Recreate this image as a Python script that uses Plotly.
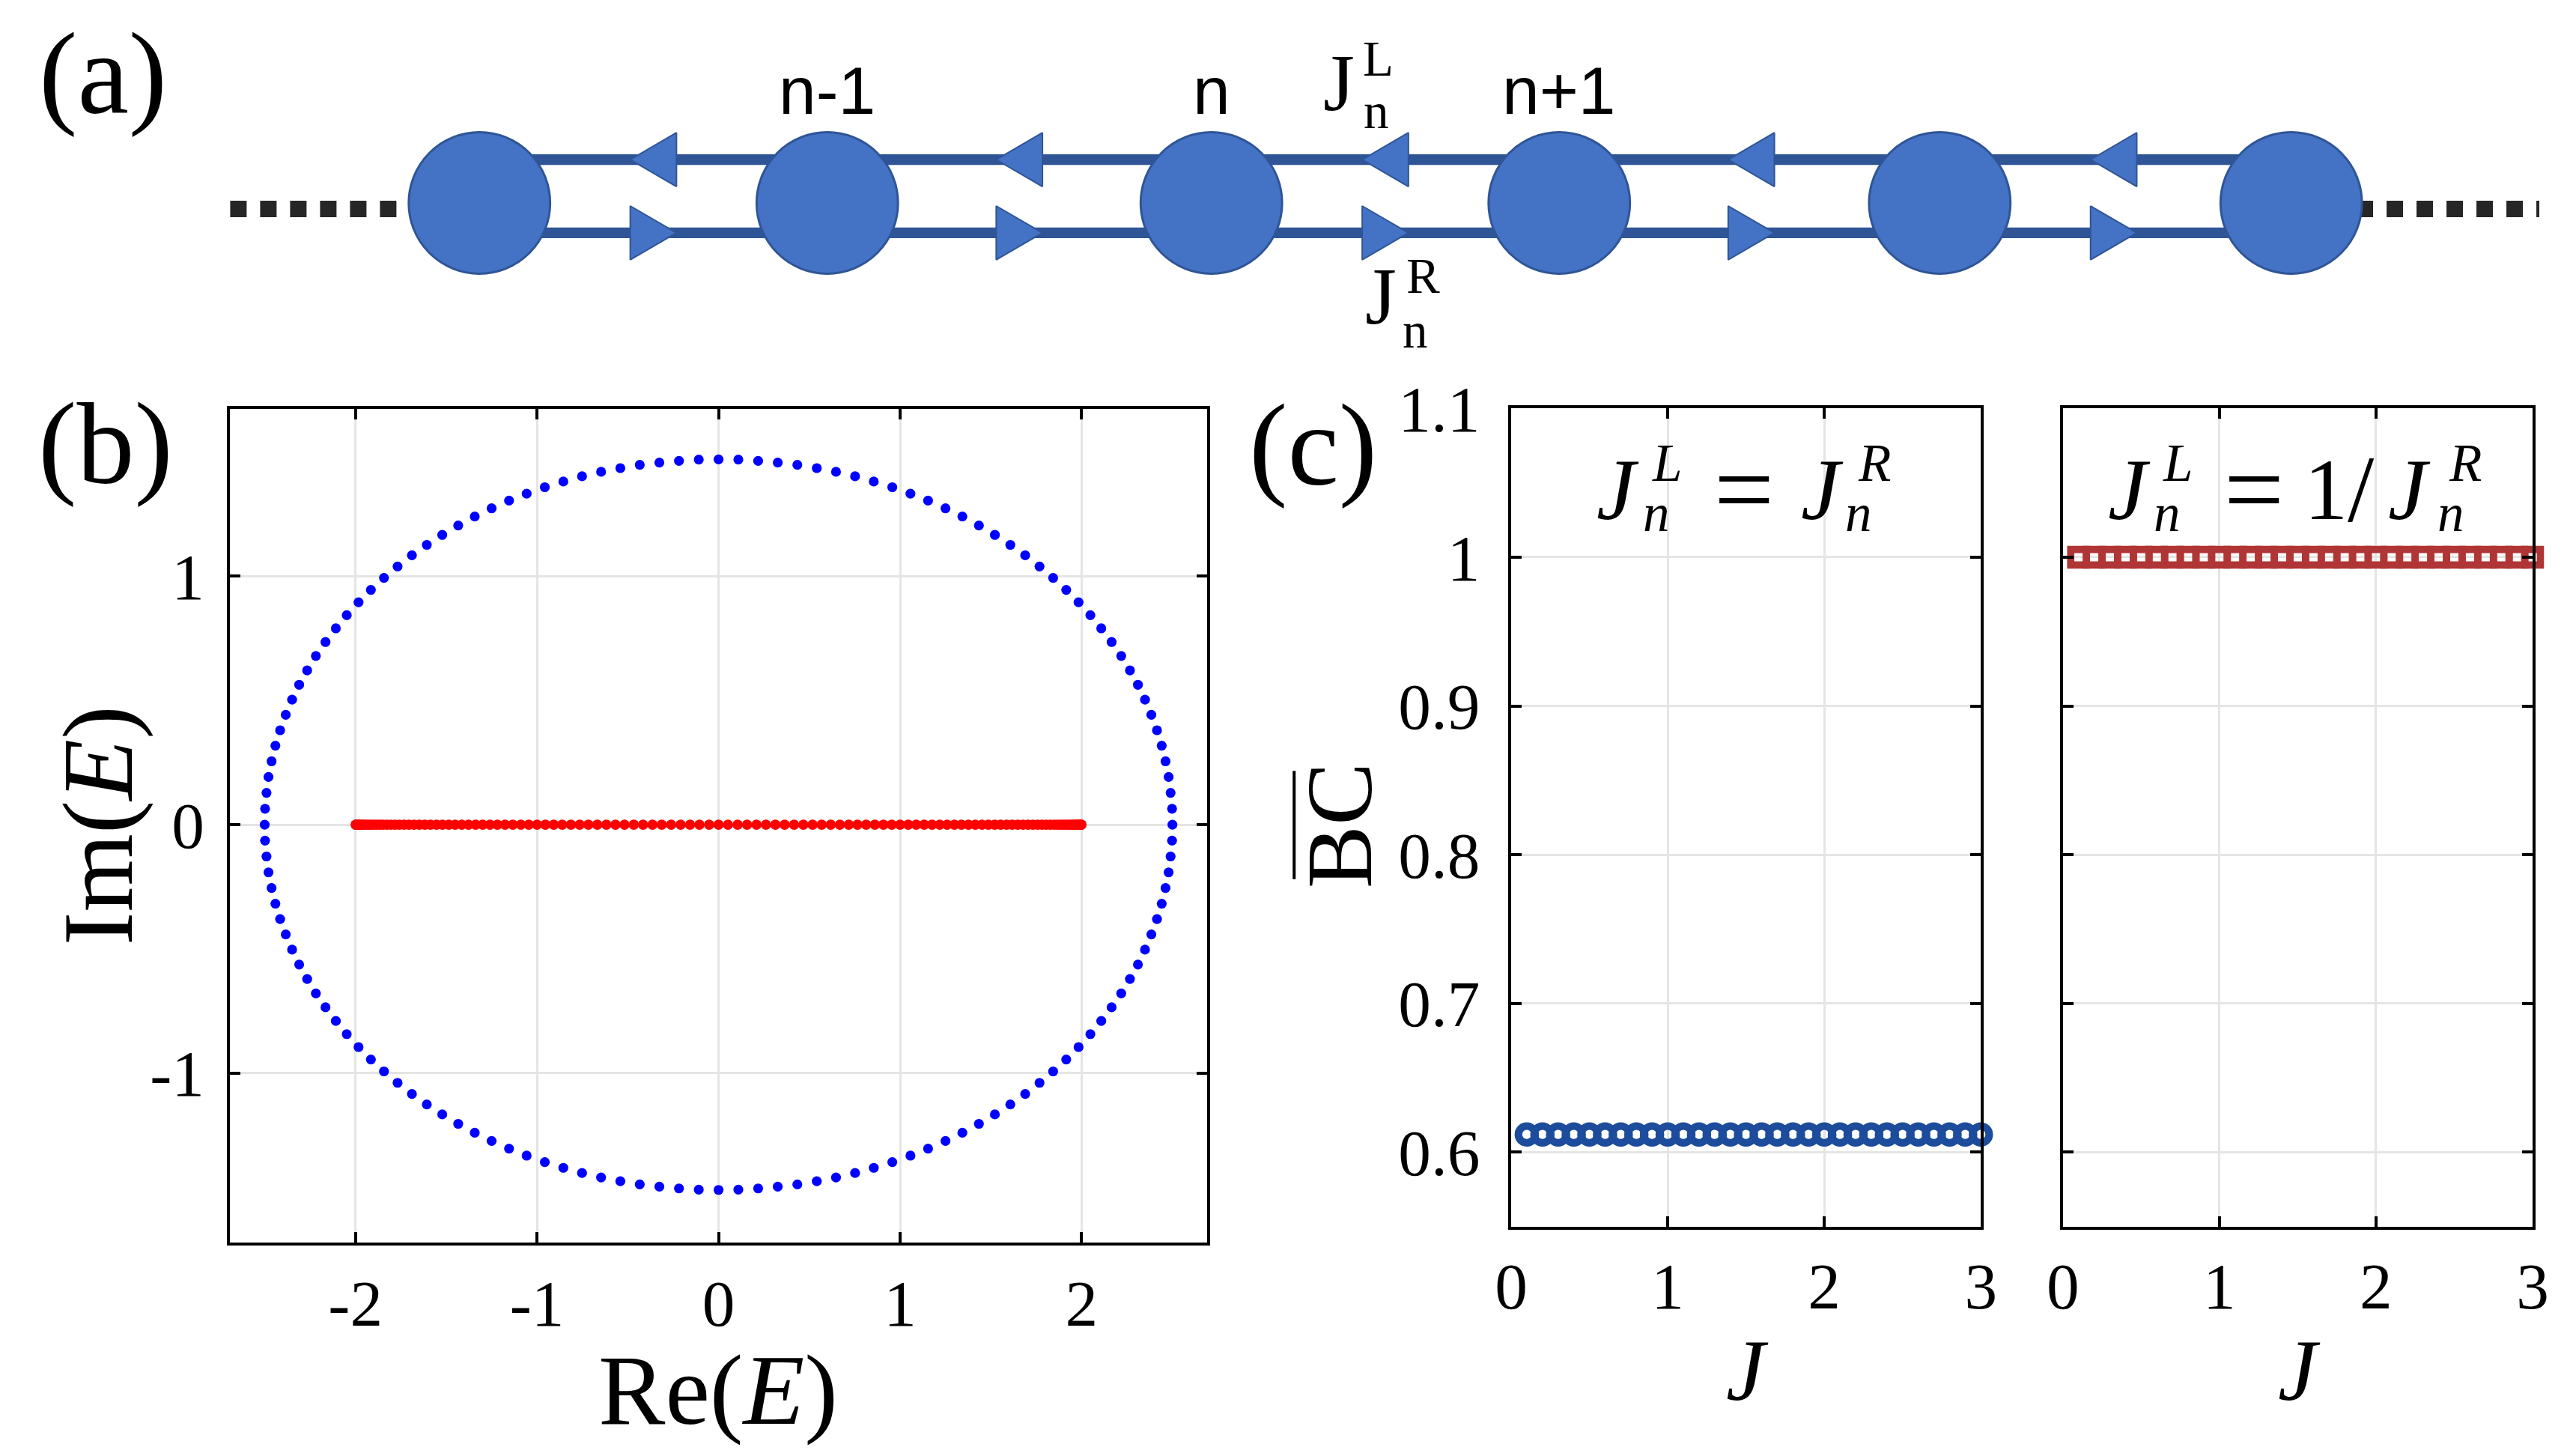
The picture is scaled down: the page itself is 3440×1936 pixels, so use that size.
import plotly.graph_objects as go

W, H = 3440, 1936

# ---------------- data: panel (b) spectra ----------------
pbc_re = [2.500, 2.498, 2.490, 2.479, 2.462, 2.441, 2.415, 2.384, 2.349, 2.310, 2.266, 2.218, 2.165, 2.108, 2.048, 1.983, 1.915, 1.843, 1.768, 1.689, 1.607, 1.522, 1.434, 1.343, 1.250, 1.154, 1.057, 0.957, 0.855, 0.752, 0.647, 0.541, 0.434, 0.326, 0.218, 0.109, 0.000,
          -0.109, -0.218, -0.326, -0.434, -0.541, -0.647, -0.752, -0.855, -0.957, -1.057, -1.154, -1.250, -1.343, -1.434, -1.522, -1.607, -1.689, -1.768, -1.843, -1.915, -1.983, -2.048, -2.108, -2.165, -2.218, -2.266, -2.310, -2.349, -2.384, -2.415, -2.441, -2.462, -2.479, -2.490, -2.498, -2.500,
          -2.498, -2.490, -2.479, -2.462, -2.441, -2.415, -2.384, -2.349, -2.310, -2.266, -2.218, -2.165, -2.108, -2.048, -1.983, -1.915, -1.843, -1.768, -1.689, -1.607, -1.522, -1.434, -1.343, -1.250, -1.154, -1.057, -0.957, -0.855, -0.752, -0.647, -0.541, -0.434, -0.326, -0.218, -0.109, 0.000,
          0.109, 0.218, 0.326, 0.434, 0.541, 0.647, 0.752, 0.855, 0.957, 1.057, 1.154, 1.250, 1.343, 1.434, 1.522, 1.607, 1.689, 1.768, 1.843, 1.915, 1.983, 2.048, 2.108, 2.165, 2.218, 2.266, 2.310, 2.349, 2.384, 2.415, 2.441, 2.462, 2.479, 2.490, 2.498]
pbc_im = [0.000, 0.064, 0.128, 0.192, 0.255, 0.318, 0.380, 0.442, 0.503, 0.563, 0.621, 0.679, 0.735, 0.790, 0.843, 0.895, 0.945, 0.993, 1.039, 1.084, 1.126, 1.166, 1.204, 1.240, 1.273, 1.304, 1.332, 1.358, 1.381, 1.402, 1.420, 1.435, 1.448, 1.457, 1.464, 1.469, 1.470,
          1.469, 1.464, 1.457, 1.448, 1.435, 1.420, 1.402, 1.381, 1.358, 1.332, 1.304, 1.273, 1.240, 1.204, 1.166, 1.126, 1.084, 1.039, 0.993, 0.945, 0.895, 0.843, 0.790, 0.735, 0.679, 0.621, 0.563, 0.503, 0.442, 0.380, 0.318, 0.255, 0.192, 0.128, 0.064, 0.000,
          -0.064, -0.128, -0.192, -0.255, -0.318, -0.380, -0.442, -0.503, -0.563, -0.621, -0.679, -0.735, -0.790, -0.843, -0.895, -0.945, -0.993, -1.039, -1.084, -1.126, -1.166, -1.204, -1.240, -1.273, -1.304, -1.332, -1.358, -1.381, -1.402, -1.420, -1.435, -1.448, -1.457, -1.464, -1.469, -1.470,
          -1.469, -1.464, -1.457, -1.448, -1.435, -1.420, -1.402, -1.381, -1.358, -1.332, -1.304, -1.273, -1.240, -1.204, -1.166, -1.126, -1.084, -1.039, -0.993, -0.945, -0.895, -0.843, -0.790, -0.735, -0.679, -0.621, -0.563, -0.503, -0.442, -0.380, -0.318, -0.255, -0.192, -0.128, -0.064]

obc_re = [1.999, 1.997, 1.994, 1.989, 1.983, 1.975, 1.967, 1.956, 1.945, 1.932, 1.918, 1.902, 1.885, 1.867, 1.848, 1.827, 1.805, 1.782, 1.758, 1.732,
          1.705, 1.677, 1.648, 1.618, 1.587, 1.554, 1.521, 1.486, 1.451, 1.414, 1.377, 1.338, 1.299, 1.259, 1.218, 1.176, 1.133, 1.089, 1.045, 1.000,
          0.954, 0.908, 0.861, 0.813, 0.765, 0.717, 0.668, 0.618, 0.568, 0.518, 0.467, 0.416, 0.364, 0.313, 0.261, 0.209, 0.157, 0.105, 0.052, 0.000,
          -0.052, -0.105, -0.157, -0.209, -0.261, -0.313, -0.364, -0.416, -0.467, -0.518, -0.568, -0.618, -0.668, -0.717, -0.765, -0.813, -0.861, -0.908, -0.954,
          -1.000, -1.045, -1.089, -1.133, -1.176, -1.218, -1.259, -1.299, -1.338, -1.377, -1.414, -1.451, -1.486, -1.521, -1.554, -1.587, -1.618, -1.648, -1.677, -1.705,
          -1.732, -1.758, -1.782, -1.805, -1.827, -1.848, -1.867, -1.885, -1.902, -1.918, -1.932, -1.945, -1.956, -1.967, -1.975, -1.983, -1.989, -1.994, -1.997, -1.999]
obc_im = [0.0] * len(obc_re)

# ---------------- data: panel (c) ----------------
J_vals = [0.1, 0.2, 0.3, 0.4, 0.5, 0.6, 0.7, 0.8, 0.9, 1.0, 1.1, 1.2, 1.3, 1.4, 1.5,
          1.6, 1.7, 1.8, 1.9, 2.0, 2.1, 2.2, 2.3, 2.4, 2.5, 2.6, 2.7, 2.8, 2.9, 3.0]
bc_equal = [0.612, 0.612, 0.612, 0.612, 0.612, 0.612, 0.612, 0.612, 0.612, 0.612,
            0.612, 0.612, 0.612, 0.612, 0.612, 0.612, 0.612, 0.612, 0.612, 0.612,
            0.612, 0.612, 0.612, 0.612, 0.612, 0.612, 0.612, 0.612, 0.612, 0.612]
bc_inverse = [1.0, 1.0, 1.0, 1.0, 1.0, 1.0, 1.0, 1.0, 1.0, 1.0,
              1.0, 1.0, 1.0, 1.0, 1.0, 1.0, 1.0, 1.0, 1.0, 1.0,
              1.0, 1.0, 1.0, 1.0, 1.0, 1.0, 1.0, 1.0, 1.0, 1.0]

b_xticks = [-2, -1, 0, 1, 2]
b_xticktext = ["-2", "-1", "0", "1", "2"]
b_yticks = [-1, 0, 1]
b_yticktext = ["-1", "0", "1"]
c_xticks = [0, 1, 2, 3]
c_xticktext = ["0", "1", "2", "3"]
c_yticks = [0.6, 0.7, 0.8, 0.9, 1.0, 1.1]
c_yticktext = ["0.6", "0.7", "0.8", "0.9", "1", "1.1"]

# ---------------- data: panel (a) diagram (site units) ----------------
site_pos = [-2.02, -1.06, 0.0, 0.96, 2.01, 2.98]
hop_pos = [-1.54, -0.53, 0.48, 1.49, 2.49]
site_labels = ["n-1", "n", "n+1"]
site_label_pos = [-1.06, 0.0, 0.96]

# ---------------- placement helpers ----------------
# positions below are given in target-picture pixels and converted to figure pixels
SX, OX = 0.9915, 24.4
SY, OY = 0.978, 50.5
K = 1.0 / 0.985   # size compensation


def tx(p):
    return (p - OX) / SX


def ty(p):
    return (p - OY) / SY


def fx(p):
    return tx(p) / W


def fy(p):
    return 1 - ty(p) / H


SERIF = "Liberation Serif, Times New Roman, serif"
SANS = "Liberation Sans, Arial, sans-serif"

fig = go.Figure()

# panel (b)
fig.add_trace(go.Scatter(x=pbc_re, y=pbc_im, mode="markers",
                         marker=dict(color="#0000FF", size=13 * K, line=dict(width=0)),
                         xaxis="x", yaxis="y", hoverinfo="skip"))
fig.add_trace(go.Scatter(x=obc_re, y=obc_im, mode="markers",
                         marker=dict(color="#FF0000", size=13.5 * K, line=dict(width=0)),
                         xaxis="x", yaxis="y", hoverinfo="skip"))

# panel (c)
fig.add_trace(go.Scatter(x=J_vals, y=bc_equal, mode="markers",
                         marker=dict(symbol="circle-open", color="#1C4C9B", size=22 * K,
                                     line=dict(width=10 * K, color="#1C4C9B")),
                         xaxis="x2", yaxis="y2", cliponaxis=False, hoverinfo="skip"))
fig.add_trace(go.Scatter(x=J_vals, y=bc_inverse, mode="markers",
                         marker=dict(symbol="square-open", color="#B03535", size=20.5 * K,
                                     line=dict(width=9.5 * K, color="#B03535")),
                         xaxis="x3", yaxis="y3", cliponaxis=False, hoverinfo="skip"))

# panel (a) diagram
UNIT = 486.0
ORIGIN = 1619.0
BOND_UP_Y, BOND_DN_Y = 209, 307
NODE_Y = 267
HALF_DEPTH = 31 / UNIT
HALF_H = 36
node_fill = "#4472C4"
node_edge = "#2F5597"

for yb in (BOND_UP_Y, BOND_DN_Y):
    fig.add_trace(go.Scatter(x=[site_pos[0], site_pos[-1]], y=[yb, yb], mode="lines",
                             line=dict(color=node_edge, width=14 * K),
                             xaxis="x4", yaxis="y4", hoverinfo="skip"))
txs, tys = [], []
for h in hop_pos:
    txs += [h - HALF_DEPTH, h + HALF_DEPTH, h + HALF_DEPTH, h - HALF_DEPTH, None]
    tys += [BOND_UP_Y, BOND_UP_Y - HALF_H, BOND_UP_Y + HALF_H, BOND_UP_Y, None]
    txs += [h + HALF_DEPTH, h - HALF_DEPTH, h - HALF_DEPTH, h + HALF_DEPTH, None]
    tys += [BOND_DN_Y, BOND_DN_Y - HALF_H, BOND_DN_Y + HALF_H, BOND_DN_Y, None]
fig.add_trace(go.Scatter(x=txs, y=tys, mode="lines", fill="toself", fillcolor=node_fill,
                         line=dict(color=node_edge, width=2),
                         xaxis="x4", yaxis="y4", hoverinfo="skip"))
for x0, x1 in ((303, 544), (3155, 3400)):
    fig.add_trace(go.Scatter(x=[(x0 - ORIGIN) / UNIT, (x1 - ORIGIN) / UNIT], y=[275, 275],
                             mode="lines", line=dict(color="#262626", width=22, dash="22px,18px"),
                             xaxis="x4", yaxis="y4", hoverinfo="skip"))
fig.add_trace(go.Scatter(x=site_pos, y=[NODE_Y] * len(site_pos), mode="markers",
                         marker=dict(size=186 * K, color=node_fill, line=dict(color=node_edge, width=3)),
                         xaxis="x4", yaxis="y4", hoverinfo="skip", cliponaxis=False))

# ---------------- axes ----------------
common = dict(showline=True, linecolor="black", linewidth=4, mirror="ticks",
              ticks="inside", ticklen=14, tickwidth=4, tickcolor="black",
              showgrid=True, gridcolor="#E5E5E5", gridwidth=3, zeroline=False,
              tickfont=dict(family=SERIF, size=86 * K, color="black"), fixedrange=True)

b_dom_x = [fx(303), fx(1613)]
b_dom_y = [fy(1658), fy(543)]
c_dom_y = [fy(1637), fy(542)]
c1_dom_x = [fx(2021), fx(2651)]
c2_dom_x = [fx(2761), fx(3391)]

DIAG_BOTTOM = 470.0  # figure px
u0 = (0 * SX + OX - ORIGIN) / UNIT
u1 = (W * SX + OX - ORIGIN) / UNIT

fig.update_layout(
    xaxis=dict(common, domain=b_dom_x, range=[-2.69, 2.69], tickvals=b_xticks, ticktext=b_xticktext,
               anchor="y", ticklabelstandoff=2),
    yaxis=dict(common, domain=b_dom_y, range=[-1.681, 1.672], tickvals=b_yticks, ticktext=b_yticktext,
               anchor="x", ticklabelstandoff=13),
    xaxis2=dict(common, domain=c1_dom_x, range=[0, 3], tickvals=c_xticks, ticktext=c_xticktext,
                anchor="y2", ticklabelstandoff=0),
    yaxis2=dict(common, domain=c_dom_y, range=[0.55, 1.1], tickvals=c_yticks, ticktext=c_yticktext,
                anchor="x2", ticklabelstandoff=20),
    xaxis3=dict(common, domain=c2_dom_x, range=[0, 3], tickvals=c_xticks, ticktext=c_xticktext,
                anchor="y3", ticklabelstandoff=0),
    yaxis3=dict(common, domain=c_dom_y, range=[0.55, 1.1], tickvals=c_yticks, showticklabels=False,
                anchor="x3"),
    xaxis4=dict(domain=[0, 1], range=[u0, u1], visible=False, anchor="y4", fixedrange=True),
    yaxis4=dict(domain=[1 - DIAG_BOTTOM / H, 1], range=[DIAG_BOTTOM * SY + OY, OY],
                visible=False, anchor="x4", fixedrange=True),
)

# ---------------- annotations ----------------
anns = []


def ann(text, x, y, size, family=SERIF, angle=0):
    anns.append(dict(text=text, x=fx(x), y=fy(y), xref="paper", yref="paper", showarrow=False,
                     xanchor="center", yanchor="middle", textangle=angle,
                     font=dict(family=family, size=size * K, color="black")))


# panel letters
ann("(a)", 132, 93, 152)
ann("(b)", 136, 588, 152)
ann("(c)", 1755, 590, 152)

# axis titles
ann("Re(<i>E</i>)", 957, 1856, 132)
ann("Im(<i>E</i>)", 126, 1100, 132, angle=-90)
ann("BC", 1790, 1100, 124, angle=-90)
ann("<i>J</i>", 2338, 1829, 115)
ann("<i>J</i>", 3078, 1829, 115)

# panel (c) equations
EQ = 115
SS = 70
ann("<i>J</i>", 2164, 650, EQ)
ann("<i>L</i>", 2230, 615, SS)
ann("<i>n</i>", 2216, 682, SS)
ann("=", 2333, 650, 140)
ann("<i>J</i>", 2438, 650, EQ)
ann("<i>R</i>", 2508, 615, SS)
ann("<i>n</i>", 2487, 682, SS)

ann("<i>J</i>", 2850, 650, EQ)
ann("<i>L</i>", 2915, 615, SS)
ann("<i>n</i>", 2901, 682, SS)
ann("=", 3017, 650, 140)
ann("1", 3114, 650, EQ)
ann("/", 3161, 650, 125)
ann("<i>J</i>", 3226, 650, EQ)
ann("<i>R</i>", 3301, 615, SS)
ann("<i>n</i>", 3281, 682, SS)

# panel (a) labels
for lab, p in zip(site_labels, site_label_pos):
    anns.append(dict(text=lab, x=p, y=117, xref="x4", yref="y4", showarrow=False,
                     xanchor="center", yanchor="middle",
                     font=dict(family=SANS, size=88 * K, color="black")))
ann("J", 1790, 106, 106)
ann("L", 1843, 74, 66)
ann("n", 1840, 144, 66)
ann("J", 1846, 392, 106)
ann("R", 1903, 364, 66)
ann("n", 1892, 437, 66)

fig.update_layout(
    annotations=anns,
    shapes=[dict(type="line", xref="paper", yref="paper",
                 x0=fx(1730), x1=fx(1730), y0=fy(1027), y1=fy(1172),
                 line=dict(color="black", width=4))],
    width=W, height=H, margin=dict(l=0, r=0, t=0, b=0),
    paper_bgcolor="white", plot_bgcolor="white", showlegend=False,
)

fig.write_html("out.html")
